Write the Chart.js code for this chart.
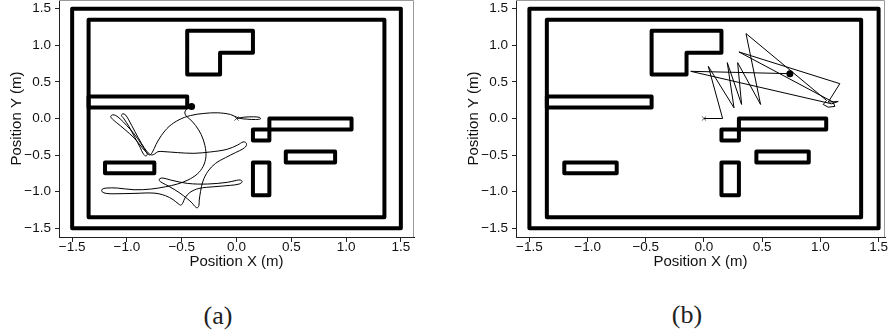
<!DOCTYPE html>
<html>
<head>
<meta charset="utf-8">
<script src="https://cdn.jsdelivr.net/npm/chart.js@4.4.1/dist/chart.umd.min.js"></script>
<style>
  html, body { margin: 0; padding: 0; background: #fff; }
  body { width: 888px; height: 334px; overflow: hidden; position: relative; }
  canvas { position: absolute; }
  #cvA { left: 0; top: -16px; }
  #cvB { left: 457px; top: -16px; }
  .cap {
    position: absolute;
    font-family: "Liberation Serif", "DejaVu Serif", serif;
    font-size: 26px;
    color: #222;
    transform: translate(-50%, -50%);
    white-space: nowrap;
  }
</style>
</head>
<body>
<canvas id="cvA" width="420" height="287"></canvas>
<canvas id="cvB" width="440" height="287"></canvas>
<div class="cap" style="left:218px; top:316px;">(a)</div>
<div class="cap" style="left:687px; top:315px;">(b)</div>

<script>
// Axis ticks (metres)
const TICKS = [-1.5, -1.0, -0.5, 0.0, 0.5, 1.0, 1.5];
const TICK_LABELS = ['\u22121.5', '\u22121.0', '\u22120.5', '0.0', '0.5', '1.0', '1.5'];
const X_TITLE = 'Position X (m)';
const Y_TITLE = 'Position Y (m)';

// Arena walls and obstacles, as closed outlines [x, y]
const wallOuter = [[-1.5, -1.5], [1.5, -1.5], [1.5, 1.5], [-1.5, 1.5], [-1.5, -1.5]];
const wallInner = [[-1.35, -1.35], [1.35, -1.35], [1.35, 1.35], [-1.35, 1.35], [-1.35, -1.35]];
const blockL = [[-0.45, 1.2], [0.15, 1.2], [0.15, 0.9], [-0.15, 0.9], [-0.15, 0.6], [-0.45, 0.6], [-0.45, 1.2]];
const shelfLeft = [[-1.35, 0.15], [-0.45, 0.15], [-0.45, 0.3], [-1.35, 0.3], [-1.35, 0.15]];
const barRight = [[0.3, -0.15], [1.05, -0.15], [1.05, 0.0], [0.3, 0.0], [0.3, -0.15]];
const stepBox = [[0.15, -0.3], [0.3, -0.3], [0.3, -0.15], [0.15, -0.15], [0.15, -0.3]];
const barMid = [[0.45, -0.6], [0.9, -0.6], [0.9, -0.45], [0.45, -0.45], [0.45, -0.6]];
const barLow = [[-1.2, -0.75], [-0.75, -0.75], [-0.75, -0.6], [-1.2, -0.6], [-1.2, -0.75]];
const post = [[0.15, -1.05], [0.3, -1.05], [0.3, -0.6], [0.15, -0.6], [0.15, -1.05]];
const obstacles = [wallOuter, wallInner, blockL, shelfLeft, barRight, stepBox, barMid, barLow, post];

// Robot path (a): smooth wandering run
const pathA = [
  [0, 0], [0.067, 0.018], [0.158, 0.023], [0.213, 0.014], [0.219, -0.005], [0.173, -0.014],
  [0.097, -0.009], [0.021, 0.005],
  [-0.055, 0.055], [-0.176, 0.078], [-0.298, 0.069], [-0.419, 0.041], [-0.525, -0.018],
  [-0.616, -0.110], [-0.686, -0.233], [-0.735, -0.357], [-0.768, -0.462], [-0.792, -0.498],
  [-0.820, -0.466], [-0.859, -0.402], [-0.935, -0.265], [-1.026, -0.142], [-1.096, -0.055],
  [-1.132, -0.009], [-1.148, 0.027], [-1.132, 0.050], [-1.102, 0.041], [-1.062, -0.005],
  [-1.002, -0.096], [-0.935, -0.210], [-0.874, -0.338], [-0.829, -0.448], [-0.814, -0.494],
  [-0.829, -0.512], [-0.850, -0.485], [-0.880, -0.393], [-0.929, -0.256], [-0.981, -0.110],
  [-1.032, 0.005], [-1.050, 0.041], [-1.038, 0.064], [-1.014, 0.050], [-0.984, -0.018],
  [-0.929, -0.174], [-0.868, -0.338], [-0.814, -0.457], [-0.777, -0.498], [-0.747, -0.485],
  [-0.717, -0.453],
  [-0.662, -0.453], [-0.540, -0.466], [-0.389, -0.476], [-0.237, -0.457], [-0.085, -0.421],
  [0.012, -0.361], [0.061, -0.320], [0.088, -0.334], [0.088, -0.375], [0.058, -0.416],
  [-0.009, -0.466], [-0.100, -0.535], [-0.191, -0.613], [-0.261, -0.722], [-0.307, -0.860],
  [-0.328, -0.997], [-0.340, -1.116], [-0.343, -1.189], [-0.358, -1.221], [-0.379, -1.203],
  [-0.404, -1.157], [-0.449, -1.097], [-0.525, -1.011], [-0.616, -0.928], [-0.674, -0.882],
  [-0.704, -0.850], [-0.701, -0.823], [-0.671, -0.814], [-0.601, -0.841], [-0.449, -0.887],
  [-0.267, -0.896], [-0.085, -0.873], [0.0, -0.846], [0.036, -0.841], [0.052, -0.864],
  [0.024, -0.896], [-0.055, -0.914], [-0.206, -0.933], [-0.343, -0.956], [-0.425, -1.011],
  [-0.471, -1.088], [-0.489, -1.152], [-0.507, -1.184], [-0.531, -1.166], [-0.577, -1.111],
  [-0.647, -1.056], [-0.753, -1.020], [-0.935, -1.024], [-1.117, -1.029], [-1.190, -1.024],
  [-1.227, -1.001], [-1.227, -0.969], [-1.190, -0.951], [-1.087, -0.951], [-0.935, -0.974],
  [-0.783, -0.965], [-0.647, -0.933], [-0.540, -0.896],
  [-0.443, -0.841], [-0.358, -0.759], [-0.304, -0.654], [-0.279, -0.521], [-0.288, -0.370],
  [-0.322, -0.220], [-0.373, -0.096], [-0.428, -0.005], [-0.461, 0.037], [-0.471, 0.087],
  [-0.449, 0.137], [-0.410, 0.165]
];

// Robot path (b): jerky zig-zag run
const pathB = [
  [0, 0], [0.160, 0.0], [0.037, 0.713], [0.258, 0.146], [0.200, 0.764], [0.323, 0.192],
  [0.289, 0.764], [0.486, 0.192], [0.361, 1.161], [1.053, 0.247], [1.024, 0.192],
  [1.067, 0.155], [1.124, 0.165], [1.110, 0.224], [0.300, 0.910], [1.167, 0.476],
  [1.067, 0.224], [1.153, 0.233], [1.096, 0.201], [-0.114, 0.645], [0.738, 0.613]
];

// Axis ranges
const RANGE_A = { xMin: -1.62, xMax: 1.62, yMin: -1.62, yMax: 1.62 };
const RANGE_B = { xMin: -1.615, xMax: 1.555, yMin: -1.62, yMax: 1.62 };

const toXY = pts => pts.map(p => ({ x: p[0], y: p[1] }));

// thin grey frame along the top and right of the plotting region
const framePlugin = {
  id: 'frame',
  afterDraw(chart) {
    const { ctx, chartArea: a } = chart;
    ctx.save();
    ctx.strokeStyle = '#9a9a9a';
    ctx.lineWidth = 1;
    ctx.beginPath();
    ctx.moveTo(a.left, a.top + 0.5);
    ctx.lineTo(a.right - 0.5, a.top + 0.5);
    ctx.lineTo(a.right - 0.5, a.bottom);
    ctx.stroke();
    ctx.restore();
  }
};

function axis(min, max, isX) {
  return {
    type: 'linear',
    min: min,
    max: max,
    afterBuildTicks: s => { s.ticks = TICKS.map(v => ({ value: v })); },
    afterFit: s => { if (isX) { s.height = 34; } else { s.width = 59; } },
    ticks: {
      autoSkip: false,
      maxRotation: 0,
      padding: isX ? -3 : 4,
      color: '#111',
      font: { family: '"Liberation Sans", Arial, sans-serif', size: 13.5 },
      callback: v => TICK_LABELS[TICKS.indexOf(Math.round(v * 10) / 10)]
    },
    grid: {
      drawOnChartArea: false,
      drawTicks: true,
      tickLength: isX ? 5 : 4,
      color: '#222'
    },
    border: { display: true, color: '#222', width: 1 },
    title: {
      display: true,
      text: isX ? X_TITLE : Y_TITLE,
      color: '#111',
      font: { family: '"Liberation Sans", Arial, sans-serif', size: 15 },
      padding: isX ? { top: 0, bottom: 0 } : { top: 8, bottom: 0 }
    }
  };
}

function makeChart(id, path, tension, range, padRight) {
  const datasets = obstacles.map(o => ({
    data: toXY(o),
    showLine: true,
    borderColor: '#000',
    borderWidth: 4,
    borderJoinStyle: 'round',
    borderCapStyle: 'round',
    pointRadius: 0,
    tension: 0
  }));
  datasets.push({
    data: toXY(path),
    showLine: true,
    borderColor: '#000',
    borderWidth: 1,
    pointRadius: 0,
    tension: tension
  });
  const first = path[0];
  const last = path[path.length - 1];
  datasets.push({
    data: [{ x: first[0], y: first[1] }],
    pointStyle: 'crossRot',
    pointRadius: 3,
    borderColor: '#555',
    borderWidth: 1,
    backgroundColor: '#555'
  });
  datasets.push({
    data: [{ x: last[0], y: last[1] }],
    pointStyle: 'circle',
    pointRadius: 3.5,
    borderColor: '#000',
    backgroundColor: '#000',
    borderWidth: 0
  });
  return new Chart(document.getElementById(id), {
    type: 'scatter',
    data: { datasets },
    options: {
      responsive: false,
      animation: false,
      devicePixelRatio: 1,
      layout: { padding: { top: 16, right: padRight, bottom: 0, left: 0 } },
      plugins: { legend: { display: false }, tooltip: { enabled: false } },
      scales: {
        x: axis(range.xMin, range.xMax, true),
        y: axis(range.yMin, range.yMax, false)
      }
    },
    plugins: [framePlugin]
  });
}

makeChart('cvA', pathA, 0.35, RANGE_A, 6);
makeChart('cvB', pathB, 0, RANGE_B, 12);
</script>
</body>
</html>
